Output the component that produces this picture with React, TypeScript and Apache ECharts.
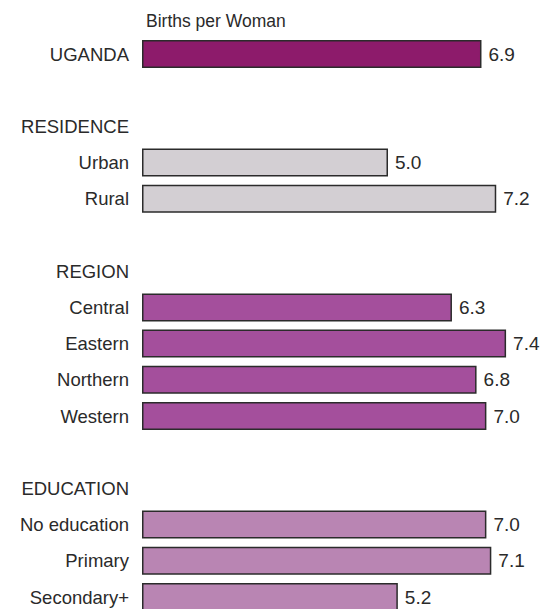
import React, { useEffect, useRef } from "react";
import * as echarts from "echarts";

const nationalCats = ["UGANDA"];
const nationalVals = [6.9];
const residenceCats = ["Urban", "Rural"];
const residenceVals = [5.0, 7.2];
const regionCats = ["Central", "Eastern", "Northern", "Western"];
const regionVals = [6.3, 7.4, 6.8, 7.0];
const educationCats = ["No education", "Primary", "Secondary+"];
const educationVals = [7.0, 7.1, 5.2];

const COLORS = {
  national: "#8d1b6b",
  residence: "#d3cfd3",
  region: "#a44f9c",
  education: "#b985b3",
};

export default function App() {
  const ref = useRef<HTMLDivElement>(null);

  useEffect(() => {
    if (!ref.current) return;
    const chart = echarts.init(ref.current, undefined, { renderer: "svg" });

    const categories: string[] = [];
    const data: any[] = [];
    const pushGroup = (header: string | null, cats: string[], vals: number[], color: string, blank: string | null) => {
      if (blank !== null) {
        categories.push(blank);
        data.push(null);
      }
      if (header !== null) {
        categories.push(header);
        data.push(null);
      }
      cats.forEach((c, i) => {
        categories.push(c);
        data.push({ value: vals[i], itemStyle: { color } });
      });
    };
    pushGroup(null, nationalCats, nationalVals, COLORS.national, null);
    pushGroup("RESIDENCE", residenceCats, residenceVals, COLORS.residence, " ");
    pushGroup("REGION", regionCats, regionVals, COLORS.region, "  ");
    pushGroup("EDUCATION", educationCats, educationVals, COLORS.education, "   ");

    const rowH = 36.2;
    chart.setOption({
      animation: false,
      backgroundColor: "#ffffff",
      title: {
        text: "Births per Woman",
        left: 141,
        top: 7,
        textStyle: {
          fontFamily: "Liberation Sans",
          fontSize: 17.5,
          fontWeight: "normal",
          color: "#2a2a2a",
        },
      },
      grid: {
        left: 142,
        top: 54 - rowH / 2,
        width: 8 * 49.2,
        height: rowH * categories.length,
        containLabel: false,
      },
      xAxis: {
        type: "value",
        min: 0,
        max: 8,
        show: false,
        splitLine: { show: false },
      },
      yAxis: {
        type: "category",
        inverse: true,
        data: categories,
        axisLine: { show: false },
        axisTick: { show: false },
        splitLine: { show: false },
        axisLabel: {
          fontFamily: "Liberation Sans",
          fontSize: 18.5,
          color: "#2a2a2a",
          margin: 13,
          interval: 0,
        },
      },
      series: [
        {
          type: "bar",
          data,
          barWidth: 28,
          itemStyle: { borderColor: "#2b2b2b", borderWidth: 1.5 },
          label: {
            show: true,
            position: "right",
            distance: 7,
            fontFamily: "Liberation Sans",
            fontSize: 19,
            color: "#2a2a2a",
            formatter: (p: any) => (p.value == null ? "" : Number(p.value).toFixed(1)),
          },
        },
      ],
    });

    return () => chart.dispose();
  }, []);

  return (
    <div
      ref={ref}
      style={{ position: "fixed", left: 0, top: 0, width: 544, height: 630, background: "#fff" }}
    />
  );
}
